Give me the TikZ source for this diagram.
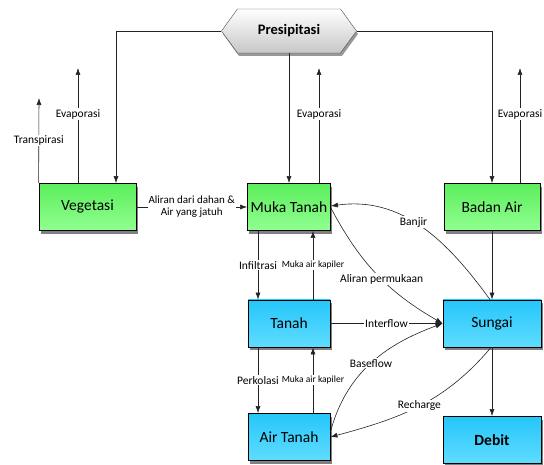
\documentclass[tikz,border=0pt]{standalone}
\usepackage{fontspec}
\setmainfont{Carlito}
\usetikzlibrary{arrows.meta,shapes.symbols,shadows}

\definecolor{garis}{RGB}{35,35,35}
\definecolor{hijauatas}{RGB}{92,238,92}
\definecolor{hijaubawah}{RGB}{145,255,145}
\definecolor{biruatas}{RGB}{38,198,250}
\definecolor{birubawah}{RGB}{95,220,255}

\tikzset{
  kotak/.style={rectangle, draw=black, line width=0.8pt, minimum height=47pt, inner sep=0pt,
    font=\fontsize{15.5}{17}\selectfont,
    drop shadow={shadow xshift=1.5pt, shadow yshift=-3.5pt, fill=black!50, opacity=1}},
  hijau/.style={kotak, top color=hijauatas, bottom color=hijaubawah},
  biru/.style={kotak, top color=biruatas, bottom color=birubawah},
  panah/.style={draw=garis, line width=0.6pt, -{Latex[length=7pt,width=5pt]}},
  lbl/.style={fill=white, inner sep=1pt, font=\fontsize{11.5}{13}\selectfont},
  lblkecil/.style={fill=white, inner sep=1pt, font=\fontsize{9.5}{11}\selectfont},
}

\begin{document}
\begin{tikzpicture}[x=1pt,y=1pt]
\useasboundingbox (0,0) rectangle (544,464);

\node[signal, signal to=west and east, signal pointer angle=108, minimum width=135pt, minimum height=44pt,
  inner sep=0pt, draw=black!70, top color=white, bottom color=black!22,
  drop shadow={shadow xshift=1.5pt, shadow yshift=-3pt, fill=black!40, opacity=1},
  font=\bfseries\fontsize{14.5}{16}\selectfont] (pres) at (289,433) {Presipitasi};

\node[hijau, minimum width=97pt] (veg) at (87.5,257) {Vegetasi};
\node[hijau, minimum width=83pt] (muka) at (289,257) {Muka Tanah};
\node[hijau, minimum width=96pt] (badan) at (492,257) {Badan Air};
\node[biru, minimum width=82pt] (tanah) at (289,140.5) {Tanah};
\node[biru, minimum width=82pt] (airtanah) at (289,27) {Air Tanah};
\node[biru, minimum width=98pt] (sungai) at (492,140.5) {Sungai};
\node[biru, minimum width=98pt, font=\bfseries\fontsize{15.5}{17}\selectfont] (debit) at (492,24) {Debit};

\coordinate (transp) at (39,366);
\coordinate (evveg) at (78,396);
\coordinate (evmuka) at (319,396);
\coordinate (evbadan) at (520,396);

\draw[panah] (pres.west) -| ([xshift=28.5pt]veg.north);
\draw[panah] (pres.south) -- (muka.north);
\draw[panah] (pres.east) -| (badan.north);

\draw[panah] (veg.north west) -- node[lbl]{Transpirasi} (transp);
\draw[panah] ([xshift=-9.5pt]veg.north) -- node[lbl, pos=.6]{Evaporasi} (evveg);
\draw[panah] ([xshift=30pt]muka.north) -- node[lbl, pos=.6]{Evaporasi} (evmuka);
\draw[panah] ([xshift=28pt]badan.north) -- node[lbl, pos=.6]{Evaporasi} (evbadan);

\draw[panah] (veg.east) -- node[lbl, align=center, font=\fontsize{11}{12}\selectfont]{Aliran dari dahan \&\\Air yang jatuh} (muka.west);

\draw[panah] ([xshift=-31pt]muka.south) -- node[lbl]{Infiltrasi} ([xshift=-31pt]tanah.north);
\draw[panah] ([xshift=24pt]tanah.north) -- node[lblkecil]{Muka air kapiler} ([xshift=24pt]muka.south);
\draw[panah] ([xshift=-31pt]tanah.south) -- node[lbl]{Perkolasi} ([xshift=-31pt]airtanah.north);
\draw[panah] ([xshift=24pt]airtanah.north) -- node[lblkecil]{Muka air kapiler} ([xshift=24pt]tanah.south);

\draw[panah] (tanah.east) -- node[lbl]{Interflow} (sungai.west);
\draw[panah] (badan.south) -- (sungai.north);
\draw[panah] (sungai.south) -- (debit.north);

\draw[panah] ([xshift=-2pt]sungai.north) to[out=126, in=8] node[lbl, pos=.55]{Banjir} ([yshift=1pt]muka.east);
\draw[panah] ([yshift=-1pt]muka.east) to[out=-62, in=150] node[lbl, pos=.54]{Aliran permukaan} (sungai.west);
\draw[panah] ([yshift=5pt]airtanah.east) to[out=75, in=200] node[lbl, pos=.5]{Baseflow} (sungai.west);
\draw[panah] ([xshift=-1pt]sungai.south) to[out=-130, in=15] node[lbl, pos=.5]{Recharge} (airtanah.east);

\end{tikzpicture}
\end{document}
